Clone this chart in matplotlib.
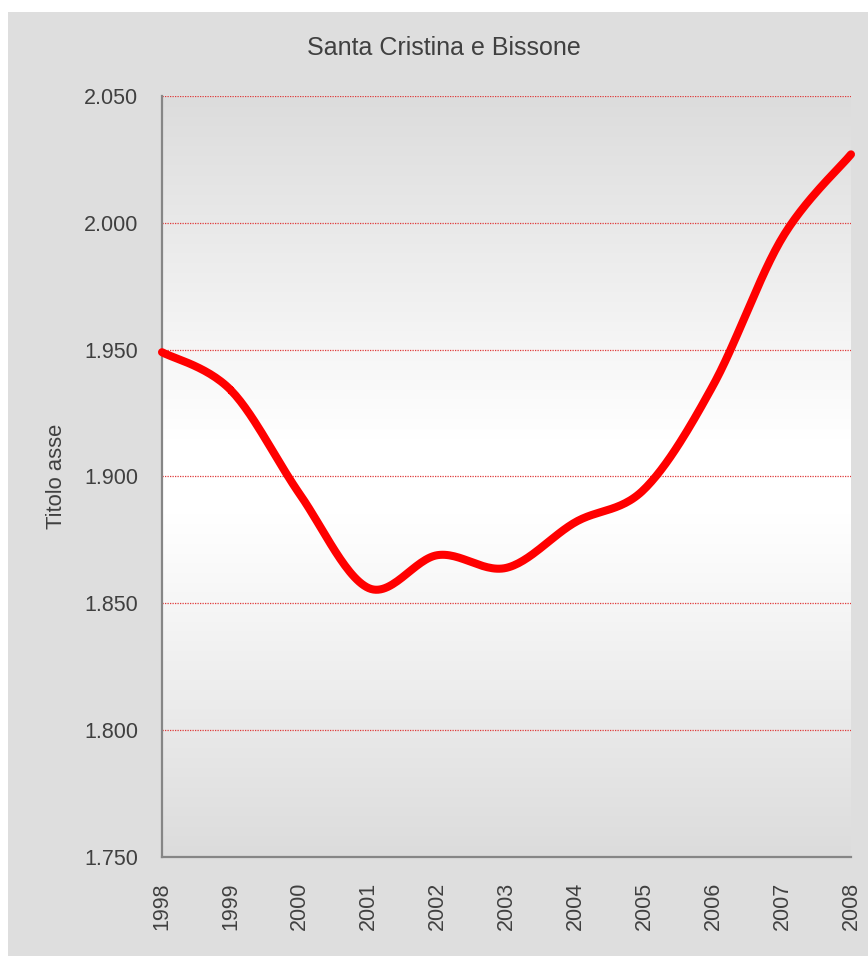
import numpy as np
import matplotlib.pyplot as plt
from matplotlib.patches import Rectangle
from matplotlib.colors import LinearSegmentedColormap

plt.rcParams['font.family'] = ['Liberation Sans', 'DejaVu Sans']

years = [1998, 1999, 2000, 2001, 2002, 2003, 2004, 2005, 2006, 2007, 2008]
values = [1.949, 1.934, 1.893, 1.856, 1.869, 1.864, 1.882, 1.895, 1.936, 1.994, 2.027]
yticks = [1.750, 1.800, 1.850, 1.900, 1.950, 2.000, 2.050]
ytick_labels = ['1.750', '1.800', '1.850', '1.900', '1.950', '2.000', '2.050']
title = 'Santa Cristina e Bissone'
ylabel = 'Titolo asse'


def smooth(xs, ys, n=30):
    # catmull-rom, like the smoothed line option in spreadsheet charts
    x = np.asarray(xs, float)
    y = np.asarray(ys, float)
    px = np.concatenate([[x[0]], x, [x[-1]]])
    py = np.concatenate([[y[0]], y, [y[-1]]])
    out_x, out_y = [], []
    t = np.linspace(0, 1, n)
    for i in range(1, len(px) - 2):
        for arr, out in ((px, out_x), (py, out_y)):
            p0, p1, p2, p3 = arr[i - 1], arr[i], arr[i + 1], arr[i + 2]
            out.extend(0.5 * (2 * p1 + (-p0 + p2) * t
                              + (2 * p0 - 5 * p1 + 4 * p2 - p3) * t ** 2
                              + (-p0 + 3 * p1 - 3 * p2 + p3) * t ** 3))
    return out_x, out_y


fig = plt.figure(figsize=(8.68, 9.56), dpi=100)
fig.patch.set_facecolor('white')
fig.patches.append(Rectangle((8 / 868, 0), 1, 1 - 12 / 956, transform=fig.transFigure,
                             facecolor='#dedede', edgecolor='none', zorder=-10))

ax = fig.add_axes([162 / 868, 99 / 956, 689 / 868, 761 / 956])
ax.set_facecolor('none')

cmap = LinearSegmentedColormap.from_list('bg', [(0, '#dcdcdc'), (0.45, '#ffffff'),
                                                (0.55, '#ffffff'), (1, '#dcdcdc')])
grad = np.linspace(0, 1, 256).reshape(-1, 1)
ax.imshow(grad, cmap=cmap, aspect='auto', extent=[0, 1, 0, 1],
          transform=ax.transAxes, zorder=0)

for v in yticks[1:]:
    ax.axhline(v, color='#e03a3a', lw=0.9, ls=(0, (1, 1)), zorder=1)

sx, sy = smooth(years, values)
ax.plot(sx, sy, color='#ff0000', lw=5.8, solid_capstyle='round', clip_on=False, zorder=3)

ax.set_xlim(1998, 2008)
ax.set_ylim(1.750, 2.050)
ax.set_xticks(years)
ax.set_xticklabels([str(y) for y in years], rotation=90, fontsize=15.5, color='#404040')
ax.set_yticks(yticks)
ax.set_yticklabels(ytick_labels, fontsize=15.5, color='#404040')
ax.tick_params(axis='y', length=0, pad=17)
ax.tick_params(axis='x', length=0, pad=18)

for s in ['top', 'right']:
    ax.spines[s].set_visible(False)
for s in ['left', 'bottom']:
    ax.spines[s].set_color('#868686')
    ax.spines[s].set_linewidth(1.6)
    ax.spines[s].set_zorder(2)

fig.text(444 / 868, 1 - 48 / 956, title, ha='center', va='center', fontsize=18, color='#404040')
fig.text(56 / 868, 1 - 476 / 956, ylabel, ha='center', va='center', rotation=90,
         fontsize=15.8, color='#404040')

fig.savefig('out.png', dpi=100)
